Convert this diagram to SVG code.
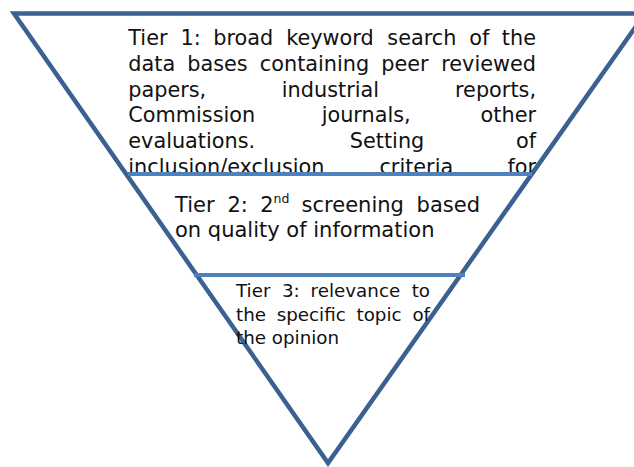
<svg xmlns="http://www.w3.org/2000/svg" width="634" height="467" viewBox="0 0 634 467">
  <style>
    .outline { fill: #ffffff; stroke: #3b6190; stroke-width: 4.5; stroke-linejoin: miter; }
    .divider { stroke: #4f81bd; stroke-width: 4; fill: none; }
    .t1 { font-family: "DejaVu Sans", Verdana, sans-serif; font-size: 20.8px; fill: #111111; }
    .t2 { font-family: "DejaVu Sans", Verdana, sans-serif; font-size: 21px; fill: #111111; }
    .t3 { font-family: "DejaVu Sans", Verdana, sans-serif; font-size: 18.3px; fill: #111111; }
    .sup { font-size: 12.5px; }
    .end { text-anchor: end; }
  </style>
  <defs>
    <!-- the first tier's text box is cut off at the first divider -->
    <clipPath id="tier1-box">
      <rect x="0" y="0" width="634" height="172"/>
    </clipPath>
  </defs>
  <rect width="634" height="467" fill="#ffffff"/>

  <!-- funnel outline -->
  <g id="funnel">
    <polygon class="outline" points="14,13.5 645,13.5 328,463"/>
  </g>

  <!-- tier dividers -->
  <g id="dividers">
    <line class="divider" x1="128" y1="174" x2="532" y2="174"/>
    <line class="divider" x1="194" y1="275" x2="465" y2="275"/>
  </g>

  <!-- justified paragraph: words placed with equal gaps between the margins -->
  <g id="tier1" clip-path="url(#tier1-box)">
    <text class="t1" y="45">
      <tspan x="128.3">Tier</tspan><tspan x="180.6">1:</tspan><tspan x="213.3">broad</tspan><tspan x="286.2">keyword</tspan><tspan x="387.3">search</tspan><tspan x="469.3">of</tspan><tspan class="end" x="536">the</tspan>
    </text>
    <text class="t1" y="70.7">
      <tspan x="128.3">data</tspan><tspan x="187.3">bases</tspan><tspan x="259.8">containing</tspan><tspan x="381.3">peer</tspan><tspan class="end" x="536">reviewed</tspan>
    </text>
    <text class="t1" y="96.5">
      <tspan x="128.3">papers,</tspan><tspan x="281.8">industrial</tspan><tspan class="end" x="536">reports,</tspan>
    </text>
    <text class="t1" y="122.2">
      <tspan x="128.3">Commission</tspan><tspan x="321.7">journals,</tspan><tspan class="end" x="536">other</tspan>
    </text>
    <text class="t1" y="148">
      <tspan x="128.3">evaluations.</tspan><tspan x="349.8">Setting</tspan><tspan class="end" x="536">of</tspan>
    </text>
    <text class="t1" y="173.7">
      <tspan x="128.3">inclusion/exclusion</tspan><tspan x="379.4">criteria</tspan><tspan class="end" x="536">for</tspan>
    </text>
  </g>

  <g id="tier2">
    <text class="t2" y="211.7">
      <tspan x="175">Tier</tspan><tspan x="227.5">2:</tspan><tspan x="260.2">2</tspan><tspan class="sup" y="202.7">nd</tspan><tspan x="301.6" y="211.7">screening</tspan><tspan class="end" x="480">based</tspan>
    </text>
    <text class="t2" x="175" y="236.7">on quality of information</text>
  </g>

  <g id="tier3">
    <text class="t3" y="297">
      <tspan x="236">Tier</tspan><tspan x="281.9">3:</tspan><tspan x="310.6">relevance</tspan><tspan class="end" x="430">to</tspan>
    </text>
    <text class="t3" y="320.5">
      <tspan x="236">the</tspan><tspan x="276.7">specific</tspan><tspan x="356.5">topic</tspan><tspan class="end" x="430">of</tspan>
    </text>
    <text class="t3" x="236" y="343.5">the opinion</text>
  </g>
</svg>
